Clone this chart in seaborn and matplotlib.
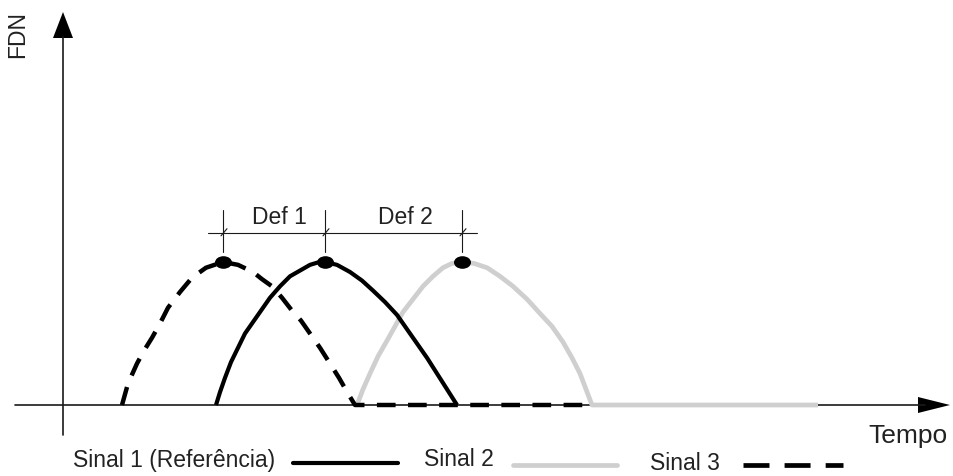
import numpy as np
import pandas as pd
import matplotlib
matplotlib.use("Agg")
import matplotlib.pyplot as plt
import matplotlib.transforms as mtransforms
from matplotlib.patches import Polygon
from matplotlib.lines import Line2D
import matplotlib.path as mpath
import seaborn as sns

# ---- data: normalised FDN response of each signal over time ----
sinal1_t = [1.53, 1.57, 1.62, 1.68, 1.75, 1.82, 1.90, 1.98, 2.07, 2.17, 2.27, 2.37, 2.47,
            2.55, 2.62, 2.74, 2.87, 2.99, 3.10, 3.22, 3.34, 3.44, 3.54, 3.64, 3.74, 3.84, 3.94]
sinal1_y = [0.00, 0.09, 0.19, 0.30, 0.40, 0.50, 0.58, 0.66, 0.75, 0.83, 0.90, 0.94, 0.98,
            0.997, 1.00, 0.98, 0.93, 0.87, 0.80, 0.72, 0.63, 0.53, 0.43, 0.33, 0.22, 0.11, 0.00]

sinal2_t = [2.94, 3.00, 3.07, 3.15, 3.24, 3.32, 3.40, 3.50, 3.60, 3.70, 3.80, 3.89, 3.99,
            4.11, 4.24, 4.37, 4.50, 4.64, 4.77, 4.89, 5.00, 5.09, 5.17, 5.23, 5.29, 7.55]
sinal2_y = [0.00, 0.11, 0.22, 0.34, 0.45, 0.55, 0.65, 0.74, 0.83, 0.90, 0.96, 0.99, 1.00,
            0.99, 0.96, 0.90, 0.83, 0.74, 0.64, 0.55, 0.44, 0.33, 0.22, 0.11, 0.00, 0.00]

sinal3_t = [0.59, 0.65, 0.74, 0.81, 0.89, 0.97, 1.05, 1.17, 1.29, 1.43, 1.60, 1.75, 1.90,
            1.99, 2.09, 2.19, 2.29, 2.38, 2.47, 2.57, 2.67, 2.76, 2.85, 2.92, 5.20]
sinal3_y = [0.00, 0.15, 0.29, 0.38, 0.47, 0.57, 0.68, 0.79, 0.89, 0.96, 1.00, 0.98, 0.93,
            0.88, 0.83, 0.75, 0.66, 0.59, 0.50, 0.40, 0.29, 0.19, 0.08, 0.00, 0.00]

# peak instants of each signal (reference, delayed, advanced)
pico_t = [2.62, 3.99, 1.60]
pico_y = [1.00, 1.00, 1.00]

legend_labels = ["Sinal 1 (Referência)", "Sinal 2", "Sinal 3"]
def_labels = ["Def 1", "Def 2"]
x_label = "Tempo"
y_label = "FDN"

W, H = 954, 476
sns.set_style("white")
plt.rcParams["font.family"] = ["Liberation Sans", "DejaVu Sans"]
FS = 16.5
TXT = "#222222"
AX = "#1a1a1a"

fig = plt.figure(figsize=(W / 100, H / 100), dpi=100)
ax = fig.add_axes([0, 0, 1, 1])
ax.set_xlim(-0.63, 8.91)
ax.set_ylim(-0.4965, 2.832)
ax.set_axis_off()

# pixel helper for annotations (origin top-left)
px = mtransforms.Affine2D().scale(1 / W, -1 / H).translate(0, 1) + fig.transFigure

# ---- axes with arrow heads ----
ax.add_line(Line2D([63, 63], [37, 435], transform=px, color=AX, lw=1.2))
ax.add_line(Line2D([15, 925], [405, 405], transform=px, color=AX, lw=1.2))
ax.add_patch(Polygon([[63, 12], [53, 38], [73, 38]], closed=True, transform=px,
                     color="black", lw=0))
ax.add_patch(Polygon([[950, 405], [918, 397], [918, 413]], closed=True, transform=px,
                     color="black", lw=0))
fig.text(18 / W, 1 - 35 / H, y_label, rotation=90, ha="center", va="center",
         fontsize=FS, color=TXT)
fig.text(908 / W, 1 - 436 / H, x_label, ha="center", va="center",
         fontsize=FS + 2.5, color=TXT)

# ---- signals ----
df1 = pd.DataFrame({"t": sinal1_t, "y": sinal1_y})
df2 = pd.DataFrame({"t": sinal2_t, "y": sinal2_y})
df3 = pd.DataFrame({"t": sinal3_t, "y": sinal3_y})

sns.lineplot(data=df2, x="t", y="y", sort=False, estimator=None, ax=ax,
             color="#cfcfcf", lw=3.4, solid_joinstyle="round", solid_capstyle="butt")
sns.lineplot(data=df1, x="t", y="y", sort=False, estimator=None, ax=ax,
             color="black", lw=3.0, solid_joinstyle="round", solid_capstyle="butt")
sns.lineplot(data=df3, x="t", y="y", sort=False, estimator=None, ax=ax,
             color="black", lw=3.2)
ax.lines[-1].set_dashes((4.2, 2.8))

# peak markers (slightly flattened dots)
ell = mpath.Path.unit_circle().transformed(mtransforms.Affine2D().scale(1.35, 1.0))
ax.scatter(pico_t, pico_y, marker=ell, s=150, color="black", zorder=5, lw=0)

# ---- dimension lines between peaks ----
y_dim = (405 - 233) / 143
y_top = (405 - 210) / 143
y_bot = (405 - 252) / 143
ax.plot([pico_t[2] - 0.15, pico_t[1] + 0.15], [y_dim, y_dim], color=AX, lw=0.8)
for tp in [pico_t[2], pico_t[0], pico_t[1]]:
    ax.plot([tp, tp], [y_bot, y_top], color=AX, lw=0.8)
    ax.plot([tp - 0.02, tp + 0.04], [y_dim - 0.02, y_dim + 0.03], color=AX, lw=0.8)
ax.text(pico_t[2] + 0.56, (405 - 218) / 143, def_labels[0], ha="center", va="center",
        fontsize=FS, color=TXT)
ax.text(pico_t[0] + 0.80, (405 - 218) / 143, def_labels[1], ha="center", va="center",
        fontsize=FS, color=TXT)

# ---- legend row ----
fig.text(73 / W, 1 - 460 / H, legend_labels[0], ha="left", va="center",
         fontsize=FS, color=TXT)
fig.add_artist(Line2D([293, 398], [463, 463], transform=px, color="black", lw=3.0))
fig.text(424 / W, 1 - 459 / H, legend_labels[1], ha="left", va="center",
         fontsize=FS, color=TXT)
fig.add_artist(Line2D([513, 617], [465, 465], transform=px, color="#cfcfcf", lw=3.4,
                      solid_capstyle="round"))
fig.text(650 / W, 1 - 464 / H, legend_labels[2], ha="left", va="center",
         fontsize=FS, color=TXT)
fig.add_artist(Line2D([743, 843], [465, 465], transform=px, color="black", lw=3.4,
                      dashes=(5.5, 3.2)))

fig.savefig("out.png", dpi=100, facecolor="white")
